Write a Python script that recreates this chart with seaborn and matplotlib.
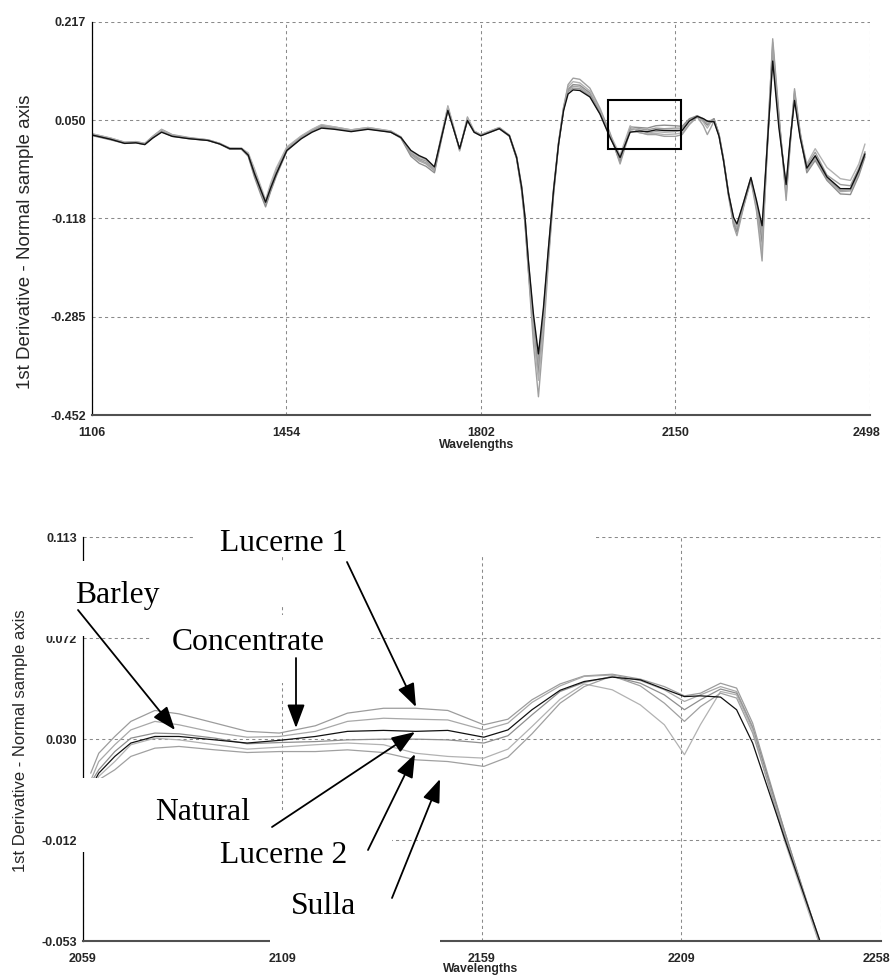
import numpy as np
import pandas as pd
import matplotlib
matplotlib.use("Agg")
import matplotlib.pyplot as plt
import seaborn as sns
from matplotlib.patches import Rectangle, FancyArrowPatch, ArrowStyle
from matplotlib.transforms import ScaledTranslation

# ---------------- data: full spectrum (top panel) ----------------
top_wl = [1108, 1140, 1165, 1185, 1201, 1215, 1231, 1250, 1280, 1314,
          1335, 1353, 1374, 1386, 1397, 1408, 1417, 1426, 1436, 1455,
          1481, 1500, 1517, 1540, 1570, 1600, 1641, 1659, 1677, 1692,
          1704, 1719, 1731, 1743, 1754, 1764, 1778, 1790, 1802, 1835,
          1853, 1866, 1875, 1881, 1887, 1896, 1905, 1914, 1923, 1932,
          1941, 1950, 1958, 1967, 1979, 1997, 2015, 2033, 2051, 2069,
          2085, 2100, 2115, 2130, 2150, 2162, 2175, 2189, 2200, 2207,
          2213, 2219, 2228, 2236, 2245, 2254, 2260, 2272, 2285, 2295,
          2305, 2314, 2324, 2335, 2348, 2355, 2363, 2373, 2385, 2400,
          2421, 2445, 2463, 2478, 2489]

top_natural = [0.024, 0.017, 0.010, 0.011, 0.008, 0.019, 0.029, 0.022, 0.018, 0.015,
               0.009, 0.001, 0.001, -0.010, -0.041, -0.068, -0.090, -0.066, -0.042, -0.002,
               0.018, 0.029, 0.036, 0.034, 0.030, 0.034, 0.029, 0.020, -0.002, -0.011,
               -0.016, -0.030, 0.018, 0.066, 0.032, 0.001, 0.049, 0.029, 0.023, 0.035,
               0.023, -0.014, -0.065, -0.116, -0.189, -0.280, -0.348, -0.269, -0.167, -0.070,
               0.009, 0.066, 0.094, 0.101, 0.100, 0.089, 0.060, 0.020, -0.014, 0.029,
               0.031, 0.030, 0.033, 0.032, 0.032, 0.032, 0.048, 0.056, 0.052, 0.048,
               0.047, 0.047, 0.022, -0.019, -0.076, -0.116, -0.127, -0.090, -0.048, -0.087,
               -0.130, 0.003, 0.150, 0.037, -0.060, 0.015, 0.083, 0.020, -0.032, -0.011,
               -0.047, -0.067, -0.067, -0.036, -0.008]

top_lucerne1 = [0.026, 0.019, 0.012, 0.013, 0.010, 0.022, 0.034, 0.025, 0.020, 0.016,
                0.010, 0.002, 0.002, -0.008, -0.035, -0.066, -0.092, -0.062, -0.036, 0.002,
                0.022, 0.033, 0.041, 0.038, 0.033, 0.037, 0.031, 0.021, -0.006, -0.016,
                -0.020, -0.033, 0.020, 0.070, 0.034, -0.001, 0.055, 0.031, 0.025, 0.037,
                0.024, -0.012, -0.062, -0.114, -0.190, -0.288, -0.359, -0.275, -0.168, -0.068,
                0.012, 0.070, 0.098, 0.104, 0.103, 0.091, 0.061, 0.022, -0.016, 0.033,
                0.035, 0.033, 0.036, 0.035, 0.036, 0.036, 0.050, 0.057, 0.052, 0.047,
                0.049, 0.052, 0.025, -0.017, -0.074, -0.118, -0.132, -0.092, -0.050, -0.090,
                -0.140, -0.002, 0.160, 0.045, -0.065, 0.012, 0.087, 0.024, -0.028, -0.005,
                -0.044, -0.060, -0.062, -0.032, -0.004]

top_concentrate = [0.025, 0.018, 0.011, 0.012, 0.009, 0.020, 0.032, 0.024, 0.019, 0.016,
                   0.010, 0.001, 0.001, -0.011, -0.044, -0.072, -0.095, -0.070, -0.044, -0.001,
                   0.020, 0.031, 0.039, 0.036, 0.032, 0.036, 0.030, 0.020, -0.009, -0.020,
                   -0.025, -0.037, 0.017, 0.074, 0.036, -0.002, 0.052, 0.030, 0.024, 0.036,
                   0.023, -0.015, -0.068, -0.122, -0.198, -0.298, -0.371, -0.285, -0.175, -0.072,
                   0.010, 0.069, 0.100, 0.107, 0.106, 0.093, 0.063, 0.023, -0.019, 0.035,
                   0.033, 0.028, 0.030, 0.029, 0.030, 0.033, 0.049, 0.057, 0.050, 0.044,
                   0.048, 0.050, 0.024, -0.018, -0.077, -0.123, -0.137, -0.094, -0.052, -0.093,
                   -0.150, 0.006, 0.168, 0.050, -0.070, 0.010, 0.091, 0.022, -0.036, -0.015,
                   -0.050, -0.072, -0.071, -0.040, -0.011]

top_barley = [0.023, 0.016, 0.010, 0.011, 0.008, 0.019, 0.030, 0.022, 0.018, 0.015,
              0.009, 0.000, 0.000, -0.012, -0.047, -0.076, -0.098, -0.072, -0.046, -0.003,
              0.019, 0.030, 0.038, 0.035, 0.031, 0.035, 0.029, 0.019, -0.012, -0.024,
              -0.029, -0.040, 0.014, 0.068, 0.033, 0.000, 0.050, 0.029, 0.023, 0.035,
              0.022, -0.016, -0.071, -0.127, -0.205, -0.308, -0.382, -0.292, -0.180, -0.075,
              0.008, 0.067, 0.102, 0.110, 0.109, 0.096, 0.065, 0.024, -0.022, 0.038,
              0.037, 0.036, 0.040, 0.041, 0.040, 0.039, 0.052, 0.057, 0.048, 0.041,
              0.046, 0.052, 0.026, -0.016, -0.075, -0.127, -0.141, -0.096, -0.050, -0.097,
              -0.160, -0.008, 0.175, 0.054, -0.075, 0.008, 0.095, 0.027, -0.040, -0.019,
              -0.053, -0.076, -0.077, -0.045, -0.013]

top_lucerne2 = [0.026, 0.019, 0.012, 0.013, 0.010, 0.021, 0.033, 0.024, 0.019, 0.016,
                0.010, 0.002, 0.001, -0.006, -0.033, -0.062, -0.086, -0.058, -0.032, 0.004,
                0.023, 0.034, 0.042, 0.038, 0.033, 0.037, 0.031, 0.021, -0.004, -0.013,
                -0.018, -0.032, 0.022, 0.072, 0.035, -0.003, 0.053, 0.031, 0.025, 0.037,
                0.024, -0.013, -0.066, -0.120, -0.200, -0.312, -0.393, -0.300, -0.182, -0.074,
                0.011, 0.072, 0.106, 0.115, 0.113, 0.099, 0.067, 0.026, -0.010, 0.040,
                0.028, 0.026, 0.027, 0.025, 0.026, 0.028, 0.043, 0.056, 0.046, 0.036,
                0.045, 0.049, 0.024, -0.018, -0.078, -0.120, -0.130, -0.090, -0.048, -0.100,
                -0.175, 0.010, 0.182, 0.058, -0.080, 0.006, 0.099, 0.026, -0.025, 0.001,
                -0.031, -0.050, -0.053, -0.025, 0.009]

top_sulla = [0.024, 0.017, 0.011, 0.012, 0.009, 0.020, 0.031, 0.023, 0.019, 0.015,
             0.009, 0.001, 0.000, -0.010, -0.042, -0.070, -0.093, -0.068, -0.043, -0.001,
             0.020, 0.031, 0.039, 0.036, 0.031, 0.035, 0.030, 0.020, -0.008, -0.018,
             -0.023, -0.035, 0.018, 0.066, 0.032, 0.001, 0.048, 0.029, 0.024, 0.036,
             0.023, -0.015, -0.070, -0.125, -0.208, -0.330, -0.421, -0.318, -0.190, -0.078,
             0.009, 0.071, 0.110, 0.121, 0.119, 0.104, 0.070, 0.028, -0.025, 0.031,
             0.029, 0.025, 0.025, 0.022, 0.022, 0.025, 0.042, 0.055, 0.040, 0.025,
             0.036, 0.048, 0.023, -0.020, -0.080, -0.130, -0.147, -0.098, -0.053, -0.105,
             -0.190, 0.000, 0.188, 0.062, -0.087, 0.004, 0.103, 0.030, -0.034, -0.012,
             -0.048, -0.070, -0.069, -0.038, -0.006]

# zoom box drawn on the full spectrum
box_wl = [2029, 2160]
box_val = [0.0012, 0.084]

# ---------------- data: zoomed region (bottom panel) ----------------
zoom_wl = [2061, 2063, 2067, 2071, 2077, 2083, 2092, 2100, 2108, 2117,
           2125, 2134, 2142, 2150, 2159, 2165, 2171, 2178, 2184, 2191,
           2198, 2204, 2209, 2213, 2218, 2222, 2226, 2234, 2243]

zoom_lucerne1 = [0.016, 0.0242, 0.0311, 0.0373, 0.0418, 0.0404, 0.0366, 0.0332, 0.0325, 0.0355,
                 0.0407, 0.0427, 0.0427, 0.0418, 0.0359, 0.0382, 0.0462, 0.0527, 0.0560, 0.0567,
                 0.0547, 0.0516, 0.0478, 0.0489, 0.0530, 0.0510, 0.0366, -0.008, -0.056]
zoom_concentrate = [0.013, 0.0208, 0.0277, 0.0338, 0.0373, 0.0359, 0.0327, 0.0308, 0.0311, 0.0332,
                    0.0373, 0.0386, 0.0382, 0.0379, 0.0338, 0.0366, 0.0451, 0.0519, 0.0558, 0.0564,
                    0.0541, 0.0503, 0.0455, 0.0482, 0.0516, 0.0496, 0.0352, -0.009, -0.055]
zoom_natural = [0.010, 0.0160, 0.0229, 0.0284, 0.0311, 0.0311, 0.0297, 0.0284, 0.0295, 0.0311,
                0.0332, 0.0336, 0.0332, 0.0336, 0.0308, 0.0338, 0.0421, 0.0501, 0.0537, 0.0555,
                0.0544, 0.0506, 0.0475, 0.0478, 0.0473, 0.0421, 0.0284, -0.011, -0.054]
zoom_barley = [0.012, 0.0174, 0.0249, 0.0304, 0.0325, 0.0322, 0.0304, 0.0281, 0.0286, 0.0290,
               0.0297, 0.0300, 0.0300, 0.0297, 0.0284, 0.0314, 0.0400, 0.0496, 0.0533, 0.0558,
               0.0530, 0.0482, 0.0421, 0.0462, 0.0506, 0.0489, 0.0345, -0.008, -0.055]
zoom_lucerne2 = [0.008, 0.0147, 0.0208, 0.0277, 0.0304, 0.0297, 0.0277, 0.0259, 0.0267, 0.0277,
                 0.0284, 0.0277, 0.0242, 0.0229, 0.0222, 0.0259, 0.0352, 0.0464, 0.0527, 0.0503,
                 0.0441, 0.0359, 0.0236, 0.0360, 0.0496, 0.0482, 0.0338, -0.012, -0.056]
zoom_sulla = [0.005, 0.0133, 0.0174, 0.0229, 0.0263, 0.0270, 0.0256, 0.0245, 0.0249, 0.0249,
              0.0256, 0.0245, 0.0215, 0.0208, 0.0188, 0.0226, 0.0322, 0.0448, 0.0516, 0.0560,
              0.0519, 0.0448, 0.0373, 0.0434, 0.0489, 0.0469, 0.0325, -0.010, -0.054]

# tick labels
top_xlabels = ["1106", "1454", "1802", "2150", "2498"]
top_ylabels = ["-0.452", "-0.285", "-0.118", "0.050", "0.217"]
bot_xlabels = ["2059", "2109", "2159", "2209", "2258"]
bot_ylabels = ["-0.053", "-0.012", "0.030", "0.072", "0.113"]

annot_labels = ["Lucerne 1", "Barley", "Concentrate", "Natural", "Lucerne 2", "Sulla"]

# ---------------- build long tables ----------------
sample_order = ["Lucerne 1", "Concentrate", "Barley", "Lucerne 2", "Sulla", "Natural"]
palette = {"Lucerne 1": "#9c9c9c", "Concentrate": "#a8a8a8", "Barley": "#8e8e8e",
           "Lucerne 2": "#b2b2b2", "Sulla": "#a0a0a0", "Natural": "#111111"}

top_series = {"Lucerne 1": top_lucerne1, "Concentrate": top_concentrate, "Barley": top_barley,
              "Lucerne 2": top_lucerne2, "Sulla": top_sulla, "Natural": top_natural}
zoom_series = {"Lucerne 1": zoom_lucerne1, "Concentrate": zoom_concentrate, "Barley": zoom_barley,
               "Lucerne 2": zoom_lucerne2, "Sulla": zoom_sulla, "Natural": zoom_natural}

df_top = pd.concat([pd.DataFrame({"wl": top_wl, "val": v, "sample": k})
                    for k, v in top_series.items()], ignore_index=True)
df_zoom = pd.concat([pd.DataFrame({"wl": zoom_wl, "val": v, "sample": k})
                     for k, v in zoom_series.items()], ignore_index=True)

# ---------------- figure ----------------
sns.set_style("white")
plt.rcParams["font.family"] = ["Liberation Sans", "DejaVu Sans"]

W, H = 893, 977
fig = plt.figure(figsize=(W / 100, H / 100), dpi=100)


def fx(x):
    return x / W


def fy(y):
    return 1 - y / H


ax1 = fig.add_axes([fx(91.7), fy(415), (870 - 91.7) / W, (415 - 21.7) / H])
ax2 = fig.add_axes([fx(82.7), fy(941), (881 - 82.7) / W, (941 - 537.3) / H])

grid_kw = dict(color="#8a8a8a", linestyle=(0, (3, 3)), linewidth=0.75)

for ax, df, lw in [(ax1, df_top, 1.0), (ax2, df_zoom, 0.9)]:
    sns.lineplot(data=df, x="wl", y="val", hue="sample", hue_order=sample_order,
                 palette=palette, estimator=None, sort=False, legend=False,
                 linewidth=lw, ax=ax)
    ax.set_axisbelow(True)
    ax.grid(True, **grid_kw)
    for s in ["top", "right"]:
        ax.spines[s].set_visible(False)
    ax.spines["left"].set_color("black")
    ax.spines["left"].set_linewidth(0.9)
    ax.spines["bottom"].set_color("#505050")
    ax.spines["bottom"].set_linewidth(1.5)
    ax.tick_params(axis="x", length=0, pad=8.5)
    ax.tick_params(axis="y", length=0, pad=4)

# top axes
ax1.set_xlim(1106, 2498)
ax1.set_ylim(-0.452, 0.217)
ax1.set_xticks(np.linspace(1106, 2498, 5))
ax1.set_xticklabels(top_xlabels, fontweight="bold", fontsize=9)
ax1.set_yticks(np.linspace(-0.452, 0.217, 5))
ax1.set_yticklabels(top_ylabels, fontweight="bold", fontsize=9)
ax1.add_patch(Rectangle((box_wl[0], box_val[0]), box_wl[1] - box_wl[0], box_val[1] - box_val[0],
                        fill=False, ec="black", lw=1.5, zorder=5))
ax1.set_xlabel("Wavelengths", fontweight="bold", fontsize=8.8, va="center")
ax1.xaxis.set_label_coords(0.495, -0.0763)
ax1.set_ylabel("1st Derivative - Normal sample axis", fontsize=13.5, va="center")
ax1.yaxis.set_label_coords(-0.0848, 0.4406)

# bottom axes
ax2.set_xlim(2059, 2258)
ax2.set_ylim(-0.053, 0.113)
ax2.set_xticks(np.linspace(2059, 2258, 5))
ax2.set_xticklabels(bot_xlabels, fontweight="bold", fontsize=9)
ax2.set_yticks(np.linspace(-0.053, 0.113, 5))
ax2.set_yticklabels(bot_ylabels, fontweight="bold", fontsize=9)
ax2.set_xlabel("Wavelengths", fontweight="bold", fontsize=8.8, va="center")
ax2.xaxis.set_label_coords(0.498, -0.069)
ax2.set_ylabel("1st Derivative - Normal sample axis", fontsize=12, va="center")
ax2.yaxis.set_label_coords(-0.0785, 0.4954)

# keep the right-most x tick labels inside the picture, as in the original
for ax, shift_px in [(ax1, -3.5), (ax2, -4.5)]:
    lbl = ax.get_xticklabels()[-1]
    lbl.set_transform(lbl.get_transform() + ScaledTranslation(shift_px / 100, 0, fig.dpi_scale_trans))

# white label panels pasted over the zoomed chart (pixel boxes)
white_boxes = [(196, 520, 595, 556),   # Lucerne 1
               (40, 561, 290, 606),    # Barley
               (40, 561, 150, 635.5),  # Barley (lower part)
               (150, 615, 370, 683),   # Concentrate
               (80, 778, 275, 852),    # Natural
               (200, 810, 392, 875),   # Lucerne 2
               (270, 875, 440, 950)]   # Sulla
for x0, y0, x1, y1 in white_boxes:
    fig.add_artist(Rectangle((fx(x0), fy(y1)), (x1 - x0) / W, (y1 - y0) / H,
                             transform=fig.transFigure, fc="white", ec="none", zorder=10))

# label texts (centre x, baseline y in pixels)
label_pos = [(284, 551), (117.5, 603), (248.5, 650), (202.5, 820), (283.5, 863), (323.5, 914)]
for txt, (x, y) in zip(annot_labels, label_pos):
    fig.text(fx(x), fy(y), txt, ha="center", va="baseline", fontsize=22.8,
             family=["Liberation Serif", "DejaVu Serif"], color="black", zorder=11)

# arrows (tail -> head, pixels)
arrows = [((347, 562), (416, 707)),   # Lucerne 1
          ((78, 610), (175, 730)),    # Barley
          ((296, 658), (296, 728)),   # Concentrate
          ((272, 827), (415, 732)),   # Natural
          ((368, 850), (415, 754)),   # Lucerne 2
          ((392, 898), (440, 779))]   # Sulla
style = ArrowStyle("-|>", head_length=0.4, head_width=0.15)
for (x0, y0), (x1, y1) in arrows:
    fig.add_artist(FancyArrowPatch((fx(x0), fy(y0)), (fx(x1), fy(y1)),
                                   transform=fig.transFigure, arrowstyle=style,
                                   mutation_scale=36, lw=1.3, color="black",
                                   shrinkA=0, shrinkB=0, zorder=12))

fig.savefig("out.png", dpi=100, facecolor="white")
